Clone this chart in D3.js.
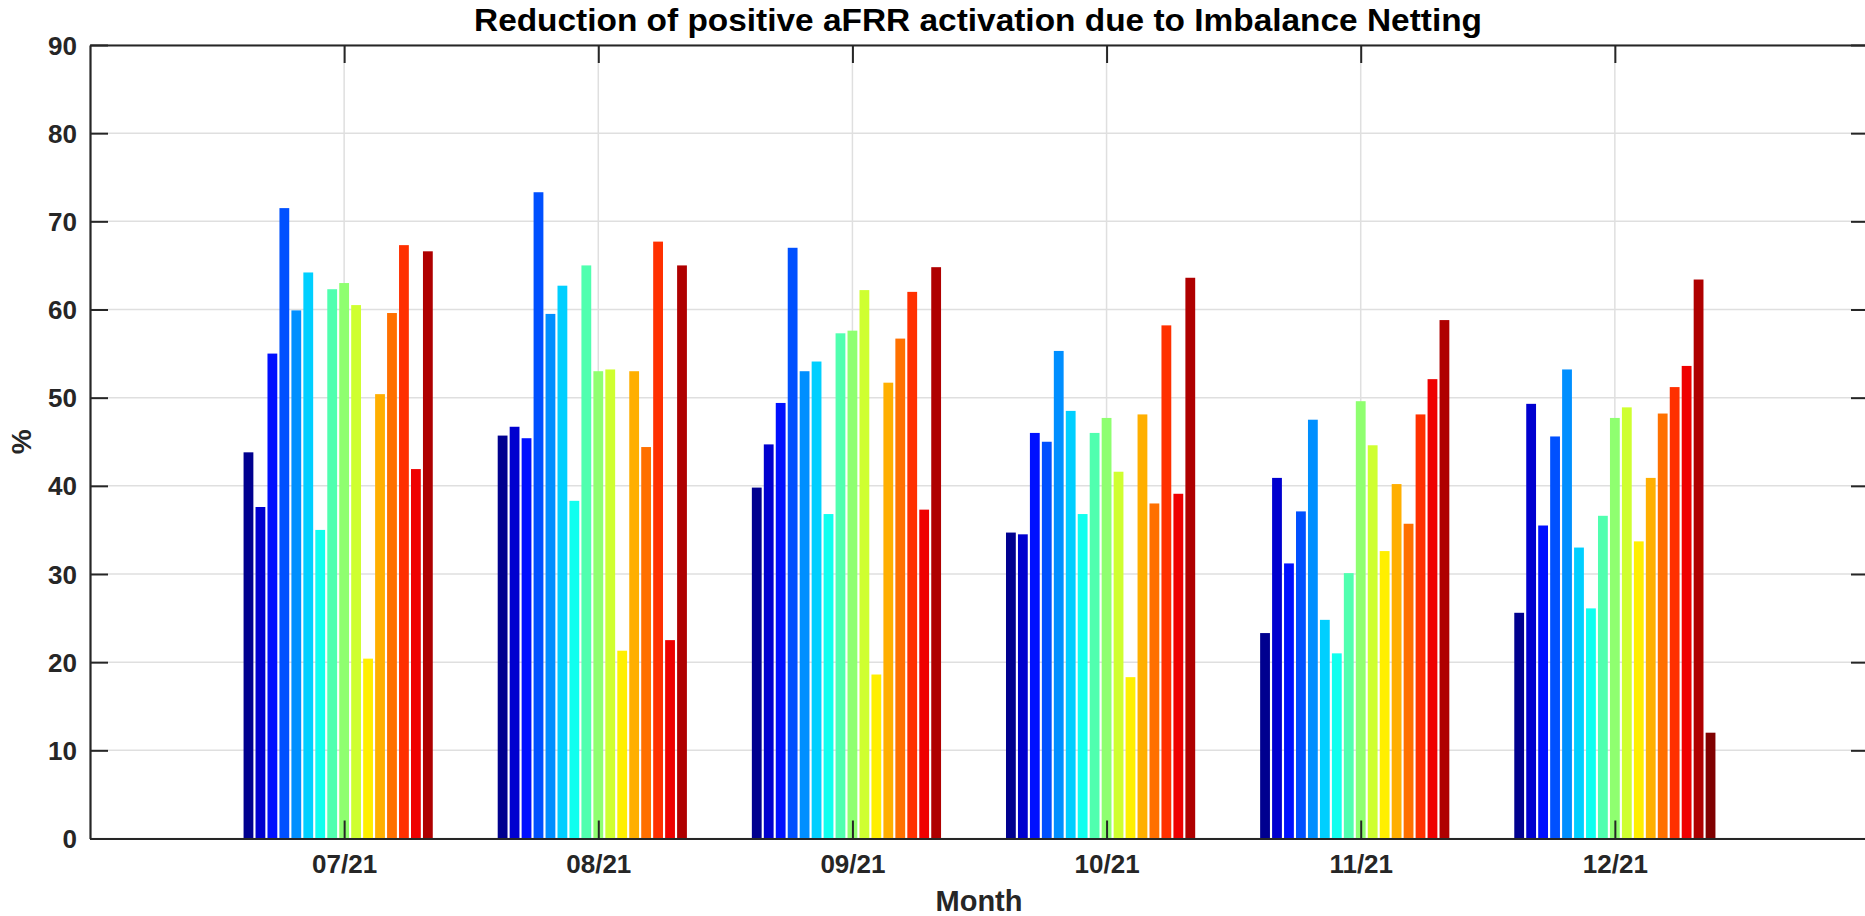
<!DOCTYPE html>
<html>
<head>
<meta charset="utf-8">
<script src="https://cdn.jsdelivr.net/npm/d3@7"></script>
<style>
  body { margin: 0; background: #ffffff; }
  .display text { font-family: 'Liberation Sans', Arial, Helvetica, sans-serif; font-weight: bold; fill: #262626; }
</style>
</head>
<body>
<div class="display"></div>
<script>
const WIDTH = 1865;
const HEIGHT = 916;
const LEFT = 90;
const RIGHT = 1869;
const TOP = 45;
const BOTTOM = 838.5;

const TITLE = 'Reduction of positive aFRR activation due to Imbalance Netting';
const X_AXIS = 'Month';
const Y_AXIS = '%';

// month labels sit at x = 1..6, axis runs 0..7
const MONTHS = ['07/21', '08/21', '09/21', '10/21', '11/21', '12/21'];
const Y_TICKS = [0, 10, 20, 30, 40, 50, 60, 70, 80, 90];

// one array per month, 17 series each (last series only has a value in 12/21)
const JUL21 = [43.8, 37.6, 55.0, 71.5, 59.9, 64.2, 35.0, 62.3, 63.0, 60.5, 20.4, 50.4, 59.6, 67.3, 41.9, 66.6, null];
const AUG21 = [45.7, 46.7, 45.4, 73.3, 59.5, 62.7, 38.3, 65.0, 53.0, 53.2, 21.3, 53.0, 44.4, 67.7, 22.5, 65.0, null];
const SEP21 = [39.8, 44.7, 49.4, 67.0, 53.0, 54.1, 36.8, 57.3, 57.6, 62.2, 18.6, 51.7, 56.7, 62.0, 37.3, 64.8, null];
const OCT21 = [34.7, 34.5, 46.0, 45.0, 55.3, 48.5, 36.8, 46.0, 47.7, 41.6, 18.3, 48.1, 38.0, 58.2, 39.1, 63.6, null];
const NOV21 = [23.3, 40.9, 31.2, 37.1, 47.5, 24.8, 21.0, 30.1, 49.6, 44.6, 32.6, 40.2, 35.7, 48.1, 52.1, 58.8, null];
const DEC21 = [25.6, 49.3, 35.5, 45.6, 53.2, 33.0, 26.1, 36.6, 47.7, 48.9, 33.7, 40.9, 48.2, 51.2, 53.6, 63.4, 12.0];
const MONTH_VALUES = [JUL21, AUG21, SEP21, OCT21, NOV21, DEC21];

// jet colormap, one colour per series
const SERIES_COLORS = ['#00008F', '#0000CF', '#0010FF', '#0050FF', '#008FFF', '#00CFFF', '#10FFEF', '#50FFAF',
  '#8FFF70', '#CFFF30', '#FFEF00', '#FFAF00', '#FF7000', '#FF3000', '#EF0000', '#AF0000', '#800000'];

const AXIS_COLOR = '#262626';
const GRID_COLOR = '#dfdfdf';
const TICK_LEN = 18;

let svg, x, y, sub;

function setupSvg() {
  svg = d3.select('.display')
    .append('svg')
    .attr('width', WIDTH)
    .attr('height', HEIGHT);

  svg.append('rect')
    .attr('width', WIDTH)
    .attr('height', HEIGHT)
    .attr('fill', '#ffffff');

  x = d3.scaleLinear().domain([0, MONTHS.length + 1]).range([LEFT, RIGHT]);
  y = d3.scaleLinear().domain([0, 90]).range([BOTTOM, TOP]);

  const step = x(1) - x(0);
  sub = d3.scaleBand()
    .domain(d3.range(SERIES_COLORS.length))
    .range([-0.4 * step, 0.4 * step])
    .paddingInner(0.18)
    .paddingOuter(0.09);
}

function drawGrid() {
  const grid = svg.append('g');

  grid.selectAll('.hgrid')
    .data(Y_TICKS)
    .enter()
    .append('line')
    .attr('x1', LEFT)
    .attr('x2', RIGHT)
    .attr('y1', d => y(d))
    .attr('y2', d => y(d))
    .attr('stroke', GRID_COLOR)
    .attr('stroke-width', 1.5);

  grid.selectAll('.vgrid')
    .data(MONTHS)
    .enter()
    .append('line')
    .attr('x1', (d, i) => x(i + 1))
    .attr('x2', (d, i) => x(i + 1))
    .attr('y1', TOP)
    .attr('y2', BOTTOM)
    .attr('stroke', GRID_COLOR)
    .attr('stroke-width', 1.5);
}

function drawBars() {
  const groups = svg.selectAll('.month')
    .data(MONTH_VALUES)
    .enter()
    .append('g')
    .attr('class', 'month')
    .attr('transform', (d, i) => `translate(${x(i + 1)}, 0)`);

  groups.selectAll('rect')
    .data(d => d.map((v, s) => ({ v, s })).filter(d => d.v !== null))
    .enter()
    .append('rect')
    .attr('x', d => sub(d.s))
    .attr('y', d => y(d.v))
    .attr('width', sub.bandwidth())
    .attr('height', d => y(0) - y(d.v))
    .attr('fill', d => SERIES_COLORS[d.s]);
}

function drawAxes() {
  const tickFormat = d => MONTHS[d - 1] || '';
  const monthTicks = d3.range(1, MONTHS.length + 1);

  const bottom = svg.append('g')
    .attr('transform', `translate(0, ${BOTTOM})`)
    .call(d3.axisBottom(x).tickValues(monthTicks).tickFormat(tickFormat).tickSizeInner(-TICK_LEN).tickSizeOuter(0).tickPadding(16));

  const top = svg.append('g')
    .attr('transform', `translate(0, ${TOP})`)
    .call(d3.axisTop(x).tickValues(monthTicks).tickFormat('').tickSizeInner(-TICK_LEN).tickSizeOuter(0));

  const left = svg.append('g')
    .attr('transform', `translate(${LEFT}, 0)`)
    .call(d3.axisLeft(y).tickValues(Y_TICKS).tickSizeInner(-TICK_LEN).tickSizeOuter(0).tickPadding(13));

  const right = svg.append('g')
    .attr('transform', `translate(${RIGHT}, 0)`)
    .call(d3.axisRight(y).tickValues(Y_TICKS).tickFormat('').tickSizeInner(-TICK_LEN).tickSizeOuter(0));

  [bottom, top, left, right].forEach(a => {
    a.select('.domain').attr('stroke', AXIS_COLOR).attr('stroke-width', 2.2);
    a.selectAll('.tick line').attr('stroke', AXIS_COLOR).attr('stroke-width', 2);
    a.selectAll('.tick text')
      .attr('fill', AXIS_COLOR)
      .style('font-family', "'Liberation Sans', Arial, sans-serif")
      .style('font-weight', 'bold')
      .style('font-size', '26px');
  });

  left.selectAll('.tick text').attr('dy', '0.35em');

  svg.append('text')
    .attr('x', 979)
    .attr('y', 911)
    .attr('text-anchor', 'middle')
    .style('font-size', '29px')
    .text(X_AXIS);

  svg.append('text')
    .attr('x', 21)
    .attr('y', y(45))
    .attr('transform', `rotate(-90, 21, ${y(45)})`)
    .attr('text-anchor', 'middle')
    .attr('dy', '0.35em')
    .style('font-size', '28px')
    .text(Y_AXIS);

  svg.append('text')
    .attr('x', 978)
    .attr('y', 31)
    .attr('text-anchor', 'middle')
    .attr('textLength', 1008)
    .attr('lengthAdjust', 'spacingAndGlyphs')
    .style('font-size', '32px')
    .style('fill', '#000000')
    .text(TITLE);
}

window.addEventListener('load', () => {
  setupSvg();
  drawGrid();
  drawBars();
  drawAxes();
}, false);
</script>
</body>
</html>
